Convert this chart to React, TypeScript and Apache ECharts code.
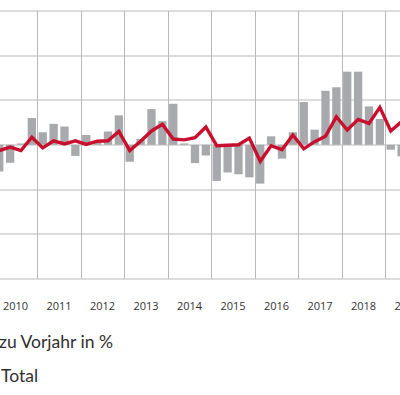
import React, { useEffect, useRef } from "react";
import * as echarts from "echarts";

const years = ["2010", "2011", "2012", "2013", "2014", "2015", "2016", "2017", "2018", "2019"];
const quarters = years.flatMap((y) => ["Q1", "Q2", "Q3", "Q4"].map((q) => `${q} ${y}`));

// Balken: Veränderung zu Vorjahr in % (quarterly)
const barValues: (number | null)[] = [
  -3.0, -2.0, 0.15, 3.0,
  1.4, 2.35, 2.05, -1.25,
  1.1, 0.2, 1.5, 3.3,
  -1.9, 0.65, 4.0, 2.65,
  4.6, 0.15, -2.05, -1.2,
  -4.05, -3.1, -3.3, -3.65,
  -4.35, 0.95, -1.55, 1.4,
  4.8, 1.7, 6.05, 6.45,
  8.2, 8.2, 4.3, 2.9,
  -0.55, -1.3, null, null,
];

// Linie: Total
const lineValues: (number | null)[] = [
  -0.65, -0.25, -0.65, 0.85,
  -0.35, 0.45, 0.1, 0.45,
  0.05, 0.4, 0.45, 1.5,
  -0.65, 0.4, 1.55, 2.3,
  0.65, 0.55, 0.8, 2.0,
  -0.1, -0.05, 0.0, 0.75,
  -1.85, -0.1, -0.55, 1.1,
  -0.45, 0.35, 0.95, 3.15,
  1.65, 2.85, 2.4, 4.2,
  1.55, 2.6, null, null,
];

const legendTexts = ["zu Vorjahr in %", "Total"];

const SHIFT = 20;

export default function App() {
  const ref = useRef<HTMLDivElement>(null);
  useEffect(() => {
    if (!ref.current) return;
    const chart = echarts.init(ref.current, undefined, { renderer: "svg" });
    chart.setOption({
      animation: false,
      backgroundColor: "#ffffff",
      grid: { left: 13.8, top: 11, width: 435, height: 267.6, containLabel: false },
      xAxis: [
        {
          type: "category",
          data: years,
          boundaryGap: true,
          axisLine: { show: false },
          axisTick: { show: false },
          axisLabel: {
            show: true,
            interval: 0,
            margin: 21,
            color: "#333333",
            fontSize: 11,
            fontFamily: "Open Sans",
          },
          splitLine: { show: true, interval: 0, lineStyle: { color: "#b8b8b8", width: 1 } },
        },
        {
          type: "category",
          data: quarters,
          show: false,
          boundaryGap: true,
        },
      ],
      yAxis: {
        type: "value",
        min: -15,
        max: 15,
        interval: 5,
        axisLine: { show: false },
        axisTick: { show: false },
        axisLabel: { show: false },
        splitLine: { show: true, lineStyle: { color: "#d0d0d0", width: 1.5 } },
      },
      series: [
        {
          type: "bar",
          xAxisIndex: 1,
          data: barValues,
          barWidth: 8.3,
          itemStyle: { color: "#a7a9ac" },
        },
        {
          type: "line",
          xAxisIndex: 1,
          data: lineValues,
          symbol: "none",
          lineStyle: { color: "#c8102e", width: 3.4, join: "miter" },
          z: 5,
        },
      ],
      graphic: [
        {
          type: "text",
          left: -1 + SHIFT,
          top: 332,
          style: { text: legendTexts[0], fontSize: 17.5, fontFamily: "Lato", fill: "#2f2f2f" },
        },
        {
          type: "text",
          left: 1 + SHIFT,
          top: 366,
          style: { text: legendTexts[1], fontSize: 17.5, fontFamily: "Lato", fill: "#2f2f2f" },
        },
      ],
    });
    return () => chart.dispose();
  }, []);
  return (
    <div
      style={{
        position: "fixed",
        left: 0,
        top: 0,
        width: 400,
        height: 395,
        overflow: "hidden",
        background: "#fff",
      }}
    >
      <div ref={ref} style={{ position: "absolute", left: -SHIFT, top: 0, width: 460, height: 395 }} />
    </div>
  );
}
